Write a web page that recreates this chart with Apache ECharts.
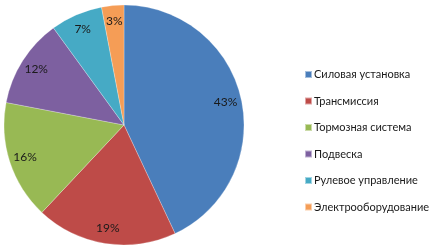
<!DOCTYPE html>
<html><head><meta charset="utf-8">
<script src="https://cdn.jsdelivr.net/npm/echarts@6/dist/echarts.min.js"></script>
<style>html,body{margin:0;padding:0;background:#fff}#c{width:437px;height:249px}</style>
</head><body><div id="c"></div>
<script>
const categories = ['Силовая установка','Трансмиссия','Тормозная система','Подвеска','Рулевое управление','Электрооборудование'];
const values = [43,19,16,12,7,3];
const colors = ['#4A7EBB','#BE4B48','#98B954','#7D60A0','#46AAC5','#F59D56'];
const data = categories.map((n,i)=>({name:n,value:values[i]}));
const chart = echarts.init(document.getElementById('c'));
chart.setOption({
  color: colors,
  animation: false,
  legend: {
    orient: 'vertical', left: 299, top: 63, itemWidth: 7, itemHeight: 7, itemGap: 13.5,
    icon: 'rect',
    textStyle: {fontFamily: 'Lato', fontSize: 11, lineHeight: 13, color: '#1a1a1a', padding:[0,0,0,-3]},
    data: categories
  },
  series: [{
    type: 'pie', center: [124,125], radius: 120, startAngle: 90, clockwise: true,
    label: {show: false}, labelLine:{show:false},
    itemStyle: {borderColor: 'rgba(255,255,255,0.5)', borderWidth: 0.5},
    emphasis:{disabled:true},
    data: data
  },{
    type: 'pie', center: [124,125], radius: [82,120], startAngle: 90, clockwise: true, silent: true,
    itemStyle: {color: 'transparent'},
    label: {show: true, position: 'inside', formatter: '{c}%', fontFamily: 'Lato', fontSize: 12, color: '#1a1a1a'},
    labelLine:{show:false},
    emphasis:{disabled:true},
    legendHoverLink:false,
    data: data.map(d=>({name: d.name+' ', value: d.value}))
  }]
});
</script></body></html>
